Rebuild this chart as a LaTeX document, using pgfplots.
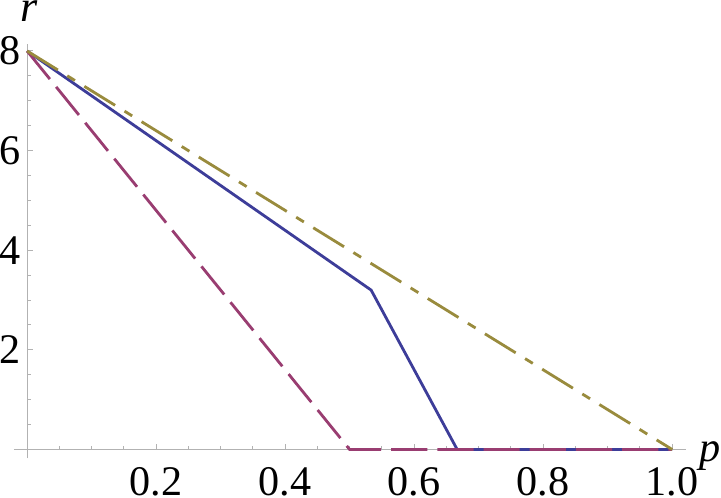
\documentclass[border=0pt]{standalone}
\usepackage{pgfplots}
\pgfplotsset{compat=1.18}
\usepackage{fontspec}
\setmainfont{Liberation Serif}

\definecolor{mblue}{rgb}{0.24,0.24,0.6}
\definecolor{mpurple}{rgb}{0.6,0.24,0.442}
\definecolor{molive}{rgb}{0.6,0.547,0.24}

\begin{document}
\begin{tikzpicture}
\begin{axis}[
  scale only axis, width=335pt, height=206.65pt,
  axis lines=middle,
  axis line style={draw=gray!60, line width=0.5pt, -},
  xmin=-0.0207, xmax=1.0221, ymin=-0.18, ymax=8.15,
  xtick={0.2,0.4,0.6,0.8,1.0},
  ytick={2,4,6,8},
  minor xtick={0.05,0.1,...,1.0},
  minor ytick={0.5,1,...,8},
  tick align=inside,
  major tick length=2.75pt, minor tick length=1.75pt,
  tick style={draw=gray!60, line width=0.5pt},
  /pgf/number format/assume math mode=true,
  xticklabel={\pgfmathprintnumber[fixed,fixed zerofill,precision=1]{\tick}},
  ticklabel style={font=\fontsize{21}{25}\selectfont, inner sep=0pt},
  xticklabel style={anchor=north, yshift=-8.5pt, text depth=1pt},
  yticklabel style={anchor=east, xshift=-2.8pt},
  xlabel={\itshape p}, ylabel={\itshape r},
  every axis x label/.style={at={(axis cs:1.0221,0)}, anchor=base west,
    inner sep=0pt, xshift=6.5pt, yshift=-6pt, font=\fontsize{21}{25}\selectfont},
  every axis y label/.style={at={(axis cs:0,8.15)}, anchor=base,
    inner sep=0pt, inner ysep=0.5pt, xshift=1pt, yshift=10.8pt, font=\fontsize{22}{26}\selectfont},
  clip=false,
]
% solid blue
\addplot[mblue, line width=1.4pt, mark=none]
  coordinates {(0,8) (0.5333,3.2) (0.6667,0) (1,0)};
% long dashes
\addplot[mpurple, line width=1.4pt, mark=none, dash pattern=on 18pt off 5pt]
  coordinates {(0,8) (0.5,0) (1,0)};
% dash-dot
\addplot[molive, line width=1.4pt, mark=none,
  dash pattern=on 18pt off 5.5pt on 4.5pt off 5.5pt]
  coordinates {(0,8) (1,0)};
\end{axis}
\end{tikzpicture}
\end{document}
